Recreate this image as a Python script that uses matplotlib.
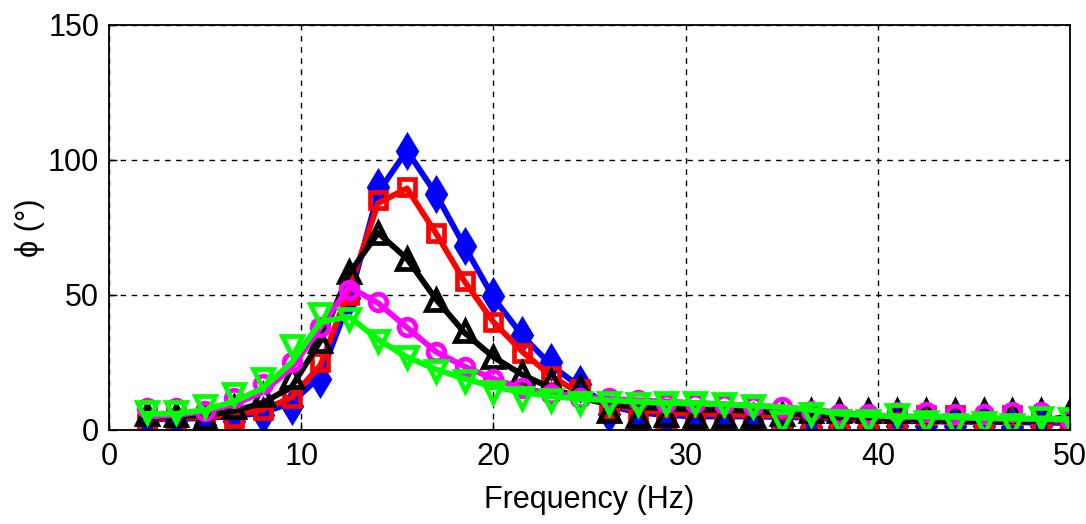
import matplotlib
matplotlib.use("Agg")
import matplotlib.pyplot as plt

freq = [2, 3.5, 5, 6.5, 8, 9.5, 11, 12.5, 14, 15.5, 17, 18.5, 20, 21.5, 23, 24.5,
        26, 27.5, 29, 30.5, 32, 33.5, 35, 36.5, 38, 39.5, 41, 42.5, 44, 45.5, 47, 48.5, 50]

# measured points (markers)
blue_pts = [2, 1.5, 2, 3.5, 5.5, 9, 19, 49, 90, 103.5, 87.5, 68, 49.5, 35, 25, 17,
            6, 2, 1, 1, 1, 1, 1, 1, 1, 1, 1.5, 1.5, 1.5, 1.5, 1, 1.5, 0.5]
red_pts = [2.5, 2, 2.5, 4.5, 7.5, 12, 25, 50, 85, 90, 73, 55, 40, 28.5, 20, 15,
           8, 4, 2.5, 2.5, 2.5, 2.5, 2, 2, 2, 2, 3, 5.5, 5.5, 3, 5.5, 2, 3]
black_pts = [6, 5.5, 4.5, 8.5, 13, 19.5, 33, 58.5, 73, 63.5, 48, 36.5, 27, 21, 18, 16,
             7, 5, 5.5, 5, 5, 5, 6, 7, 7, 7, 7, 7, 7, 7, 7, 7, 7]
pink_pts = [8, 8, 7, 12, 17, 25, 38, 52, 47.5, 38, 29, 23.5, 19, 15.5, 13.5, 12,
            12, 11, 10, 10, 9.5, 9, 8.5, 7, 6, 6, 6.5, 6.5, 6, 6, 6.5, 6.5, 4]
green_pts = [6.5, 6.5, 9, 13.5, 19, 31, 43, 41, 33, 27, 22, 18, 14, 12, 11, 10,
             10, 9.5, 10, 10, 9.5, 9, 3, 6, 3.5, 3.5, 5.5, 3, 2, 2.5, 2, 4.5, 4]

# fitted curves (lines)
blue_fit = [4, 4, 4.5, 5, 6.5, 10, 20, 48, 88, 103.5, 87.5, 68, 49, 35, 24, 16,
            9, 6.5, 5.5, 5, 5, 5, 4.8, 4.5, 4, 3.5, 3.3, 3.2, 3, 3, 2.8, 2.8, 2.5]
red_fit = [4, 4.5, 5, 5.5, 7.5, 12, 24, 52, 84, 89.5, 73, 55, 40, 29, 20, 13.5,
           9.5, 7.5, 6.5, 6, 6, 5.5, 5.5, 5, 4.5, 4, 3.8, 3.6, 3.5, 3.4, 3.3, 3.3, 3]
black_fit = [4.5, 5, 5.5, 7, 10, 16, 33, 58, 73, 63.5, 48.5, 36, 27, 20.5, 15.5, 12,
             9.5, 8.5, 8, 7.5, 7.5, 7, 6.5, 5.5, 5, 4.5, 4.2, 4, 3.8, 3.6, 3.5, 3.5, 5]
pink_fit = [5, 5.5, 7, 9.5, 14, 23, 38, 53, 47, 38, 29, 23.5, 19, 15.5, 13.5, 12.5,
            11.5, 11, 10.5, 10, 9.5, 9, 8.5, 7.5, 6.5, 5.5, 5, 4.8, 4.5, 4.3, 4, 4, 3.5]
green_fit = [6, 6, 7.5, 10.5, 15.5, 25, 40, 42, 33.5, 27, 22.5, 19, 16, 14, 12.5, 11.5,
             11, 10.5, 10, 10, 9.5, 9, 8.5, 7.5, 6, 5.5, 5, 5, 4.8, 4.5, 4.3, 4.2, 4]

xticks = [0, 10, 20, 30, 40, 50]
yticks = [0, 50, 100, 150]

plt.rcParams['font.family'] = ['Liberation Sans', 'DejaVu Sans']

fig = plt.figure(figsize=(10.86, 5.24), dpi=100)
ax = fig.add_axes([0.1004, 0.1794, 0.8849, 0.7729])

series = [
    (blue_pts, blue_fit, '#0000ff', 'd', 15.5, '#0000ff'),
    (red_pts, red_fit, '#ff0000', 's', 11.5, 'none'),
    (black_pts, black_fit, '#000000', '^', 14, 'none'),
    (pink_pts, pink_fit, '#ff00ff', 'o', 12, 'none'),
    (green_pts, green_fit, '#00ff00', 'v', 15, 'none'),
]
for i, (pts, fit, c, m, ms, fc) in enumerate(series):
    ax.plot(freq, pts, linestyle='none', marker=m, markersize=ms,
            markerfacecolor=fc, markeredgecolor=c, markeredgewidth=3.4, zorder=3 + 2 * i)
    ax.plot(freq, fit, color=c, linewidth=4.2, zorder=4 + 2 * i)

ax.set_xlim(0, 50)
ax.set_ylim(0, 150)
ax.set_xticks(xticks)
ax.set_yticks(yticks)
ax.grid(True, color='k', linestyle=(0, (4, 4)), linewidth=1.0)
ax.set_axisbelow(True)
ax.tick_params(direction='in', length=6, width=1, labelsize=22)
ax.tick_params(axis='x', pad=9)
ax.tick_params(axis='y', pad=7)
for s in ax.spines.values():
    s.set_linewidth(1.3)
    s.set_zorder(20)
ax.set_xlabel('Frequency (Hz)', fontsize=22, labelpad=9)
ax.set_ylabel('ϕ (°)', fontsize=22)
ax.yaxis.label.set_va('center')
ax.yaxis.set_label_coords(-0.082, 0.5)

fig.savefig('out.png', dpi=100)
